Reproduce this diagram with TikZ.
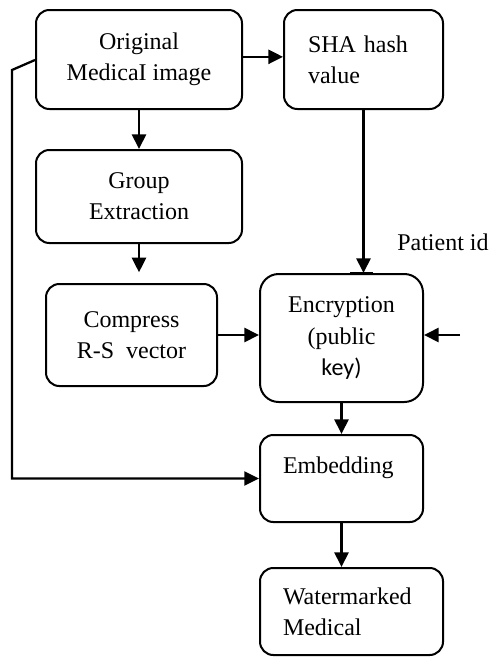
\documentclass[tikz,border=0pt]{standalone}
\usepackage{fontspec}
\setmainfont{Liberation Serif}
\newfontfamily\keyfont{Carlito}
\usetikzlibrary{arrows.meta,calc}

\begin{document}
\begin{tikzpicture}[x=0.75pt,y=-0.75pt,
  box/.style={draw,line width=1.5pt,rounded corners=10pt,inner sep=0pt,
    font=\fontsize{18}{23.5}\selectfont,align=center},
  leftbox/.style={box,align=left,inner xsep=17.25pt},
  tip/.style={-{Triangle[length=11pt,width=10.5pt]}},
  arr/.style={line width=2pt,tip},
  wire/.style={line width=1.7pt}]
\useasboundingbox (0,0) rectangle (490,657);

% process boxes
\node[box,minimum width=154.5pt,minimum height=74.25pt] (orig) at (139,59.5)
  {Original\\MedicaI image};
\node[leftbox,inner xsep=18pt,text width=83.25pt,minimum height=74.25pt] (sha) at (363.5,59.5)
  {SHA hash\\value};
\node[box,minimum width=154.5pt,minimum height=69.75pt] (group) at (139,196.5)
  {Group\\Extraction};
\node[box,minimum width=128.25pt,minimum height=76.5pt] (compress) at (131.5,335)
  {Compress\\R-S\ \ vector};
\node[box,rounded corners=14pt,minimum width=122.25pt,minimum height=96pt] (enc) at (341.5,338)
  {Encryption\\(public\\{\keyfont key)}};
\node[leftbox,text width=87.75pt,minimum height=65.25pt,text height=12pt,text depth=20pt] (emb) at (341.5,478.5)
  {Embedding};
\node[leftbox,text width=102.75pt,minimum height=65.25pt] (water) at (351.5,611.5)
  {Watermarked\\Medical};

% external input label
\node[font=\fontsize{18}{22}\selectfont,anchor=base west,inner sep=0pt] (pid) at (397,250) {Patient id};
\coordinate (pidin) at (460,335);
\coordinate (bend) at (12,70);

% connectors
\draw[arr] ([yshift=2pt]orig.east) -- ([yshift=2pt]sha.west);
\draw[arr] (orig.south) -- (group.north);
\draw[arr,shorten >=8pt] (group.south) -- (compress.north -| group.south);
\draw[arr] (sha.south) -- (sha.south |- enc.north);
\draw[wire] ([xshift=-10pt]sha.south |- enc.north) -- ([xshift=7pt]sha.south |- enc.north);
\draw[arr] (compress.east) -- (compress.east -| enc.west);
\draw[arr] (pidin) -- (pidin -| enc.east);
\draw[arr] (enc.south) -- (emb.north);
\draw[arr] (emb.south) -- (emb.south |- water.north);
\draw[wire,tip] (orig.west |- 0,60) -- (bend) -- (bend |- emb.west) -- (emb.west);
\end{tikzpicture}
\end{document}
